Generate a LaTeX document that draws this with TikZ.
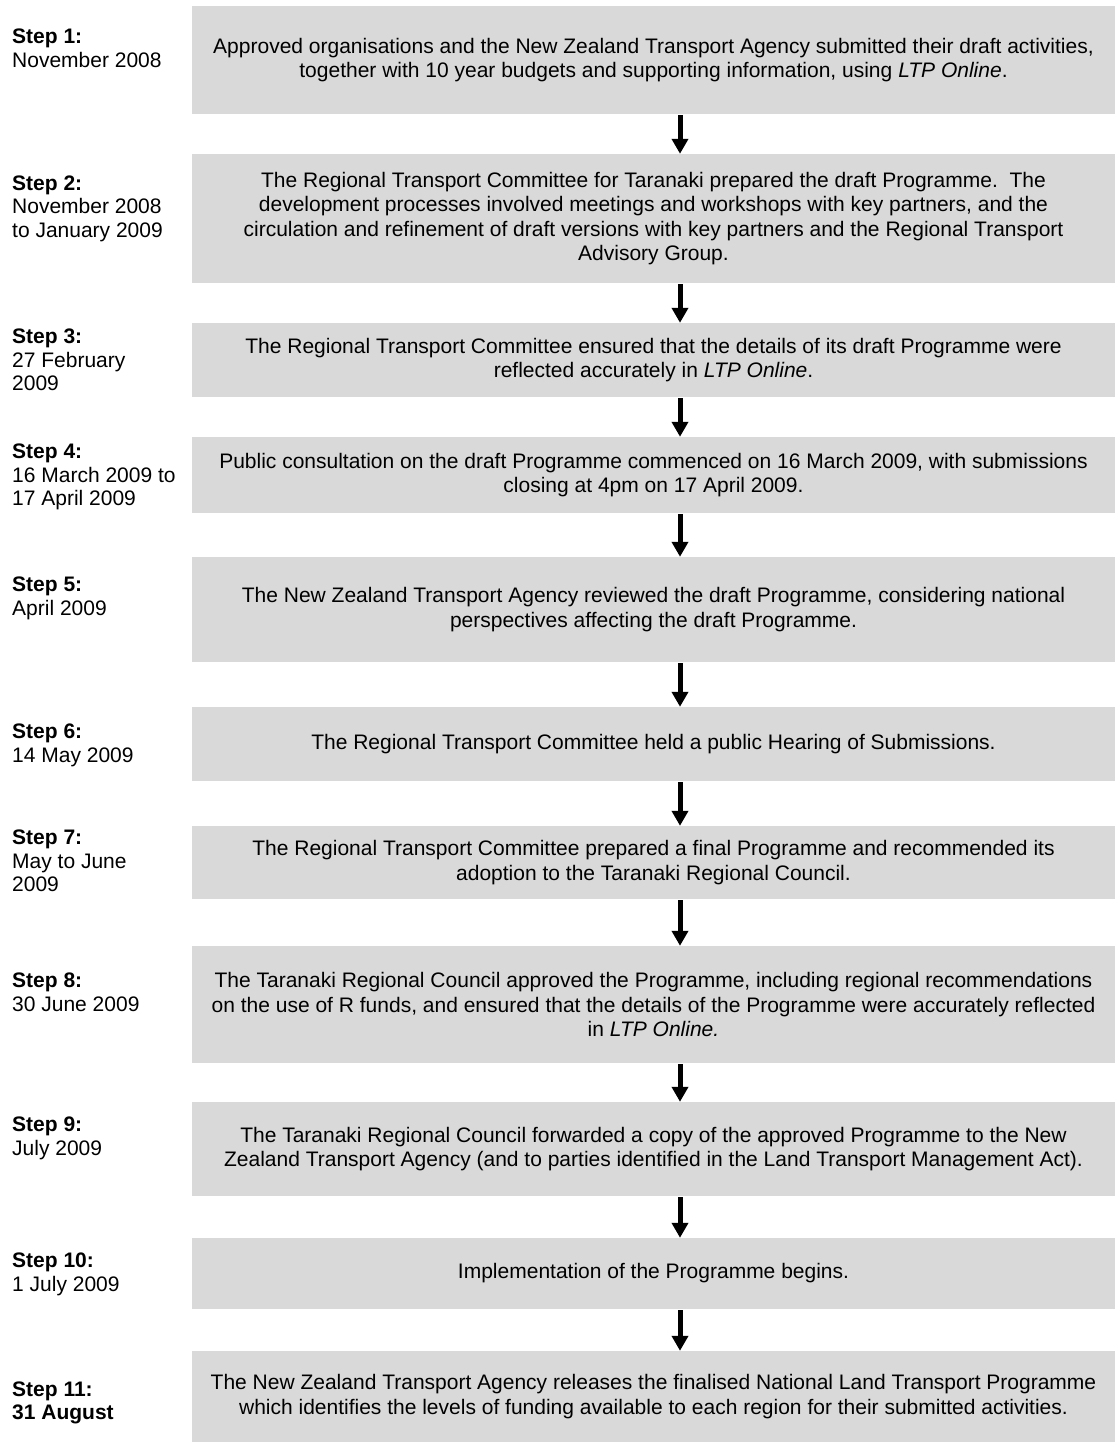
\documentclass[tikz,border=0pt]{standalone}
\usepackage{fontspec}
\setmainfont{Liberation Sans}
\usetikzlibrary{arrows.meta}
\definecolor{boxgray}{RGB}{217,217,217}
\newcommand{\mylbl}[1]{\vtop{\baselineskip=23.8pt #1}}
\begin{document}
\begin{tikzpicture}[x=1pt,y=-1pt,
  box/.style={rectangle, fill=boxgray, minimum width=923pt, inner sep=0pt, align=center,
    font=\fontsize{21}{24.2}\selectfont},
  lbl/.style={anchor=base west, inner sep=0pt, font=\fontsize{21}{23.8}\selectfont},
  arr/.style={line width=5pt, -{Triangle[width=16pt,length=15pt]}, shorten <=1pt}]
\useasboundingbox (0,0) rectangle (1115,1443);
\coordinate (ax) at (680,0);
% boxes
\node[box, minimum height=108pt] (b1) at (653.5,60) {Approved organisations and the New Zealand Transport Agency submitted their draft activities,\\together with 10 year budgets and supporting information, using \textit{LTP Online}.};
\node[box, minimum height=129pt] (b2) at (653.5,218.5) {The Regional Transport Committee for Taranaki prepared the draft Programme.\ \ The\\development processes involved meetings and workshops with key partners, and the\\circulation and refinement of draft versions with key partners and the Regional Transport\\Advisory Group.};
\node[box, minimum height=74pt] (b3) at (653.5,360) {The Regional Transport Committee ensured that the details of its draft Programme were\\reflected accurately in \textit{LTP Online}.};
\node[box, minimum height=76pt] (b4) at (653.5,475) {Public consultation on the draft Programme commenced on 16 March 2009, with submissions\\closing at 4pm on 17 April 2009.};
\node[box, minimum height=105pt] (b5) at (653.5,609.5) {The New Zealand Transport Agency reviewed the draft Programme, considering national\\perspectives affecting the draft Programme.};
\node[box, minimum height=74pt] (b6) at (653.5,744) {The Regional Transport Committee held a public Hearing of Submissions.};
\node[box, minimum height=73pt] (b7) at (653.5,862.5) {The Regional Transport Committee prepared a final Programme and recommended its\\adoption to the Taranaki Regional Council.};
\node[box, minimum height=117pt] (b8) at (653.5,1004.5) {The Taranaki Regional Council approved the Programme, including regional recommendations\\on the use of R funds, and ensured that the details of the Programme were accurately reflected\\in \textit{LTP Online.}};
\node[box, minimum height=94pt] (b9) at (653.5,1149) {The Taranaki Regional Council forwarded a copy of the approved Programme to the New\\Zealand Transport Agency (and to parties identified in the Land Transport Management Act).};
\node[box, minimum height=71pt] (b10) at (653.5,1273.5) {Implementation of the Programme begins.};
\node[box, minimum height=91pt] (b11) at (653.5,1396.5) {The New Zealand Transport Agency releases the finalised National Land Transport Programme\\which identifies the levels of funding available to each region for their submitted activities.};
% labels
\node[lbl] (s1) at (12,43.3) {\mylbl{\hbox{\textbf{Step 1:}}\hbox{November 2008}}};
\node[lbl] (s2) at (12,190) {\mylbl{\hbox{\textbf{Step 2:}}\hbox{November 2008}\hbox{to January 2009}}};
\node[lbl] (s3) at (12,343.3) {\mylbl{\hbox{\textbf{Step 3:}}\hbox{27 February}\hbox{2009}}};
\node[lbl] (s4) at (12,458.3) {\mylbl{\hbox{\textbf{Step 4:}}\hbox{16 March 2009 to}\hbox{17 April 2009}}};
\node[lbl] (s5) at (12,591.7) {\mylbl{\hbox{\textbf{Step 5:}}\hbox{April 2009}}};
\node[lbl] (s6) at (12,738.3) {\mylbl{\hbox{\textbf{Step 6:}}\hbox{14 May 2009}}};
\node[lbl] (s7) at (12,844.3) {\mylbl{\hbox{\textbf{Step 7:}}\hbox{May to June}\hbox{2009}}};
\node[lbl] (s8) at (12,987.3) {\mylbl{\hbox{\textbf{Step 8:}}\hbox{30 June 2009}}};
\node[lbl] (s9) at (12,1131.7) {\mylbl{\hbox{\textbf{Step 9:}}\hbox{July 2009}}};
\node[lbl] (s10) at (12,1267.7) {\mylbl{\hbox{\textbf{Step 10:}}\hbox{1 July 2009}}};
\node[lbl] (s11) at (12,1396) {\mylbl{\hbox{\textbf{Step 11:}}\hbox{\textbf{31 August}}}};
% arrows
\foreach \a/\b in {b1/b2,b2/b3,b3/b4,b4/b5,b5/b6,b6/b7,b7/b8,b8/b9,b9/b10,b10/b11}
  \draw[arr] (\a.south -| ax) -- (\b.north -| ax);
\end{tikzpicture}
\end{document}
